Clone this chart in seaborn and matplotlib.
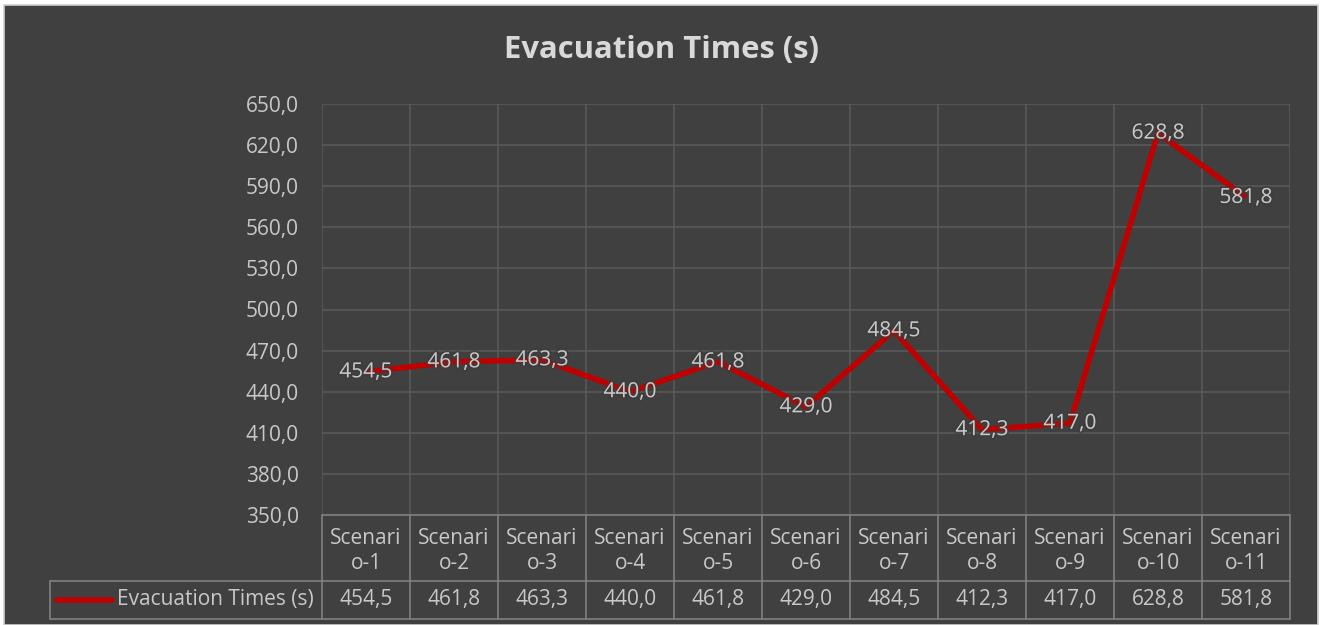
import matplotlib
matplotlib.use("Agg")
import matplotlib.pyplot as plt
import matplotlib.patheffects as pe
from matplotlib.transforms import blended_transform_factory
from matplotlib.patches import Rectangle
import numpy as np
import pandas as pd
import seaborn as sns

# ---- data ----
scenarios = ["Scenario-1", "Scenario-2", "Scenario-3", "Scenario-4", "Scenario-5",
             "Scenario-6", "Scenario-7", "Scenario-8", "Scenario-9", "Scenario-10",
             "Scenario-11"]
evac_times = [454.5, 461.8, 463.3, 440.0, 461.8, 429.0, 484.5, 412.3, 417.0, 628.8, 581.8]
series_name = "Evacuation Times (s)"
y_ticks = [350, 380, 410, 440, 470, 500, 530, 560, 590, 620, 650]

# ---- style ----
BG = "#404040"
GRID = "#595959"
TABLE = "#808080"
TEXT = "#c8c8c8"
TITLE = "#d9d9d9"
LINE = "#c00000"
FS = 15

sns.set_theme(style="dark")
plt.rcParams["font.family"] = ["Open Sans", "DejaVu Sans"]

def fmt(v):
    return f"{v:.1f}".replace(".", ",")

df = pd.DataFrame({"pos": np.arange(len(scenarios)), "time": evac_times})

W, H = 1326, 625
fig = plt.figure(figsize=(W / 100, H / 100), dpi=100, facecolor="white")

# chart frame with light border, drawn beneath the axes
fig.patches.append(Rectangle((4 / W, 0), (1318 - 4) / W, (H - 5) / H,
                             transform=fig.transFigure, facecolor=BG,
                             edgecolor="#d0d0d0", linewidth=1.2, zorder=-1))

left, right, top, bottom = 322, 1290, 104, 515
ax = fig.add_axes([left / W, 1 - bottom / H, (right - left) / W, (bottom - top) / H])
ax.set_facecolor("none")

sns.lineplot(data=df, x="pos", y="time", ax=ax, color=LINE, linewidth=4.0,
             solid_capstyle="butt", solid_joinstyle="miter", zorder=3)

n = len(scenarios)
ax.set_xlim(-0.5, n - 0.5)
ax.set_ylim(min(y_ticks), max(y_ticks))
ax.set_yticks(y_ticks)
ax.set_yticklabels([fmt(t) for t in y_ticks], color=TEXT, fontsize=FS)
ax.set_xticks(np.arange(-0.5, n, 1.0))
ax.set_xticklabels([])
ax.tick_params(axis="both", length=0)
ax.tick_params(axis="y", pad=16.5)
ax.grid(True, color=GRID, linewidth=1.2)
ax.set_axisbelow(True)
ax.set_xlabel("")
ax.set_ylabel("")
for s in ax.spines.values():
    s.set_visible(False)

# data labels centred on points
halo = [pe.withStroke(linewidth=3, foreground="#3c3c3c", alpha=0.6)]
for i, v in enumerate(evac_times):
    ax.text(i, v, fmt(v), ha="center", va="center", color=TEXT, fontsize=FS,
            zorder=4, path_effects=halo)

# title
fig.text(662 / W, 1 - 50 / H, series_name, ha="center", va="center",
         color=TITLE, fontsize=22.3, fontweight="bold")

# ---- data table below the axis ----
tr = blended_transform_factory(ax.transData, ax.transAxes)
ah = bottom - top
y0 = 0.0
y1 = -(581 - bottom) / ah
y2 = -(619 - bottom) / ah
x_leg = (50 - left) / 88 - 0.5

kw = dict(color=TABLE, linewidth=1.2, transform=tr, clip_on=False, zorder=2)
ax.plot([-0.5, n - 0.5], [y0, y0], **kw)
ax.plot([x_leg, n - 0.5], [y1, y1], **kw)
ax.plot([x_leg, n - 0.5], [y2, y2], **kw)
ax.plot([x_leg, x_leg], [y1, y2], **kw)
for b in np.arange(-0.5, n, 1.0):
    ax.plot([b, b], [y0, y2], **kw)

y_cat = -(551 - bottom) / ah
for i, name in enumerate(scenarios):
    wrapped = name[:7] + "\n" + name[7:]
    ax.text(i, y_cat, wrapped, ha="center", va="center", color=TEXT,
            fontsize=FS, transform=tr, linespacing=1.2)
    ax.text(i, (y1 + y2) / 2, fmt(evac_times[i]), ha="center", va="center",
            color=TEXT, fontsize=FS, transform=tr)

# legend key inside the table's first cell
kx0 = (57 - left) / 88 - 0.5
kx1 = (112 - left) / 88 - 0.5
ym = (y1 + y2) / 2
ax.plot([kx0, kx1], [ym, ym], color=LINE, linewidth=4.0, solid_capstyle="round",
        transform=tr, clip_on=False, zorder=3)
ax.text((314 - left) / 88 - 0.5, ym, series_name, ha="right", va="center",
        color=TEXT, fontsize=FS, transform=tr)

fig.savefig("out.png", dpi=100, facecolor="white")
